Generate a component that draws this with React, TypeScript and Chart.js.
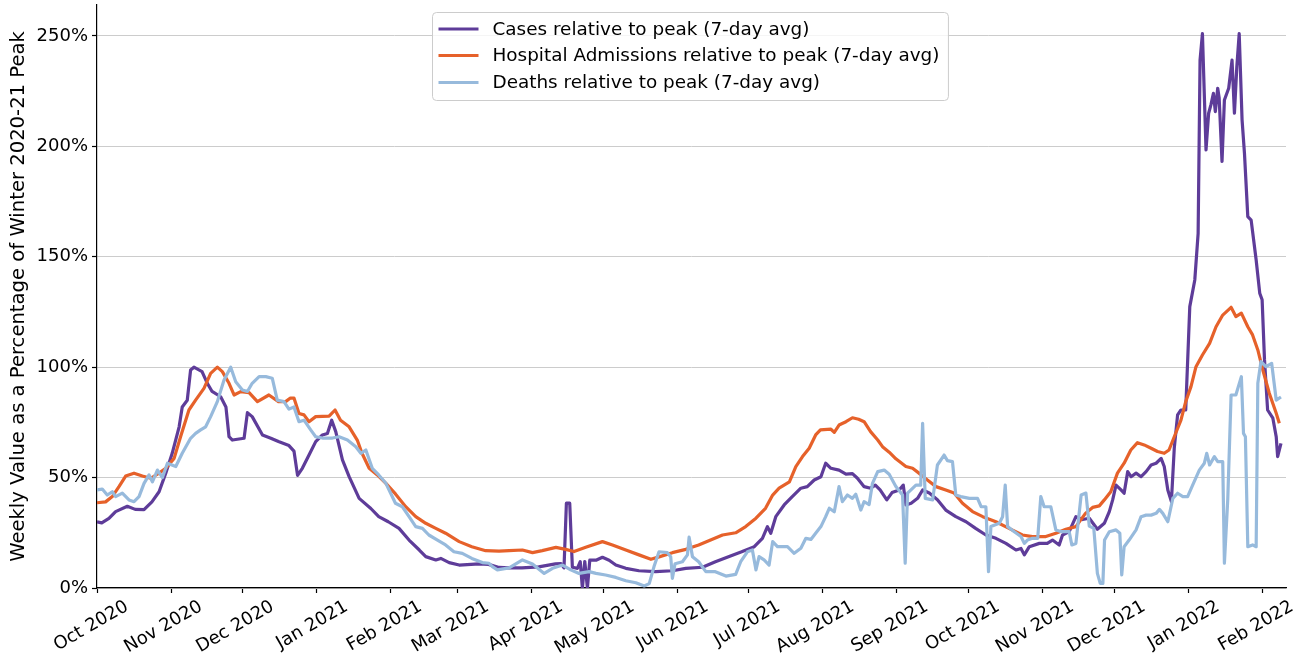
import React, { useEffect, useRef } from "react";
import { Chart, registerables } from "chart.js";

Chart.register(...registerables);

// x values are days since 1 Oct 2020
const monthTickDays = [0, 31, 61, 92, 123, 151, 182, 212, 243, 273, 304, 335, 365, 396, 426, 457, 488];
const monthTickLabels = [
  "Oct 2020", "Nov 2020", "Dec 2020", "Jan 2021", "Feb 2021", "Mar 2021", "Apr 2021", "May 2021",
  "Jun 2021", "Jul 2021", "Aug 2021", "Sep 2021", "Oct 2021", "Nov 2021", "Dec 2021", "Jan 2022", "Feb 2022",
];
const yTickValues = [0, 50, 100, 150, 200, 250];

const seriesLabels = [
  "Cases relative to peak (7-day avg)",
  "Hospital Admissions relative to peak (7-day avg)",
  "Deaths relative to peak (7-day avg)",
];
const seriesColors = ["#5e3c99", "#e6612a", "#97badc"];

const casesDays = [
  0, 2, 5, 7.8, 12.7, 16, 19.7, 23, 26, 28.8,
  31.5, 34.4, 35.7, 37.8, 39.2, 40.6, 44, 46.2, 48.2, 51.8,
  54, 55.3, 56.7, 61.6, 63, 65, 69.3, 72.8, 76, 80.4,
  82.5, 84, 86, 88.8, 91.6, 94.4, 96.5, 98.3, 100, 102.8,
  105.6, 109.8, 114.7, 118, 122, 126.5, 130.7, 135, 137.7, 141.9,
  144, 147.5, 151.7, 160, 164, 168.4, 172.6, 178, 185, 192,
  194.3, 195.6, 196.6, 198, 199.1, 201.2, 202.4, 203.3, 204.3, 205.4,
  206.4, 209, 211.7, 214.5, 217.3, 221.5, 227, 234, 241, 246.6,
  253.6, 259, 264.5, 270, 275.3, 278.7, 280.8, 282.2, 284.3, 287.8,
  291.2, 294.8, 297.5, 300.4, 303.2, 305.2, 307.4, 310.8, 313.7, 316.4,
  318.5, 321.3, 324, 326, 328, 330.8, 333, 336, 337.7, 338.8,
  341, 343.7, 345.8, 348.6, 352, 355.5, 359.7, 364, 368, 372.3,
  376.5, 380.7, 384.9, 387, 388.4, 390.5, 394.7, 398, 400.2, 403,
  404.4, 407.2, 410, 412.8, 415.6, 419, 421.9, 424, 425.4, 426.8,
  428.9, 430.2, 431.7, 433.1, 435.2, 437.3, 439.4, 441.5, 443.6, 445.7,
  447, 448.5, 450, 451.2, 452.6, 454, 456, 457.7, 459.8, 461.2,
  462, 463, 464.5, 465.6, 466.6, 467.6, 468.4, 469.4, 470, 471.2,
  472.2, 474, 475.4, 476.4, 477.4, 478.4, 479.6, 480.6, 482, 483.4,
  485.5, 487, 488, 489, 490.3, 492.5, 493.9, 494.5, 495.9,
];
const casesValues = [
  30, 29.5, 31.5, 34.6, 37, 35.6, 35.5, 39, 43.6, 52,
  61, 73, 82, 85, 98.7, 100, 98, 92.7, 89, 86.6,
  82, 68.5, 67, 67.8, 79.4, 77.6, 69.3, 67.8, 66.3, 64.5,
  62, 51, 54.2, 60.2, 66.3, 69.3, 70, 76, 70.8, 58,
  50.4, 40.6, 36, 32.3, 30, 27, 21.7, 17.2, 14.2, 12.7,
  13.4, 11.5, 10.4, 10.9, 10.7, 9.3, 9.1, 9.1, 9.6, 10.9,
  11.1, 9.1, 38.4, 38.4, 9.4, 8.9, 11.9, 0, 12, 0,
  12.6, 12.6, 13.9, 12.6, 10.4, 8.9, 7.8, 7.4, 7.8, 8.9,
  9.4, 11.9, 14.2, 16.4, 18.7, 22.5, 27.8, 24.8, 32.3, 37.6,
  41.4, 45.2, 45.9, 48.9, 50.4, 56.5, 54.2, 53.4, 51.6, 51.8,
  49.7, 45.9, 45.2, 46.6, 44.4, 39.9, 43.2, 44.4, 46.6, 37.6,
  38.4, 40.6, 44.4, 43, 40, 35.3, 32.3, 30, 27, 24,
  22.5, 20.2, 17.2, 17.9, 15, 18.7, 20.2, 20.2, 21.7, 19.5,
  24, 25.5, 32.3, 31, 31.6, 26.6, 29.3, 34.6, 39.9, 46.6,
  44.4, 42.9, 52.7, 50.4, 52, 50.4, 52.7, 55.7, 56.5, 58.7,
  55, 44.4, 39.1, 63.3, 78.4, 80.6, 80.6, 127.4, 139.5, 160.6,
  239, 251, 198.4, 215, 219, 224, 215.7, 226.3, 222, 193.2,
  221, 226.3, 239, 215, 236, 251, 212, 196.9, 168.2, 166.6,
  148.5, 133.5, 130.5, 103.3, 80.6, 76.9, 68.5, 59.5, 65.5,
];

const hospitalDays = [
  0, 3.6, 6.4, 9.2, 12, 15.5, 19, 22.5, 26, 28.8,
  32.3, 35, 38.5, 41.3, 44.8, 47.6, 50.4, 52.5, 55.3, 57.4,
  60.2, 63.7, 67.2, 72, 76, 79, 81, 82.5, 84.6, 86.7,
  88.8, 91.6, 97.2, 99.7, 102, 105.6, 109, 111, 114, 117.4,
  121, 125, 129.3, 133.5, 137.7, 141.9, 146, 151.7, 157, 162.8,
  168.4, 172.6, 178.2, 182.4, 186.5, 192.2, 196.3, 199.8, 204.7, 211.7,
  215.9, 221.5, 227, 232, 235.4, 241, 246.6, 252, 257, 262,
  267.5, 271.7, 276, 280, 283, 285.7, 290, 292.7, 295.5, 298.3,
  301, 303, 307.4, 308.8, 310.8, 313.7, 316.4, 319, 321.3, 324,
  327, 329, 331.8, 334.6, 338.8, 341.6, 344.4, 347.8, 351.4, 355.5,
  359, 362.5, 366.7, 371, 376.5, 382, 387.6, 391.8, 397.4, 401.6,
  405.8, 410, 414, 417, 419.8, 421.9, 424.6, 427.4, 430.2, 433,
  435.8, 438.6, 441.5, 444.2, 447, 449, 451.2, 454, 456, 458.2,
  460.3, 463, 466, 468.7, 471.5, 475, 477, 479.3, 482, 484,
  486.2, 488.3, 491, 493.9, 495.2,
];
const hospitalValues = [
  38.6, 39, 41.4, 45.9, 50.7, 52, 50.7, 49.7, 52, 54.2,
  58.7, 68.5, 80.6, 85.1, 90.4, 97.2, 100, 98, 92.7, 87.4,
  88.9, 88.5, 84.4, 87.4, 84.4, 84.4, 86, 86, 79, 78.4,
  75.3, 77.6, 77.8, 80.6, 76, 73, 67, 61, 54.2, 51.2,
  47.4, 42.6, 36.8, 32.3, 29.3, 27, 24.8, 21, 18.7, 16.9,
  16.7, 16.9, 17.2, 16, 16.9, 18.4, 17.5, 16.5, 18.4, 21,
  19.5, 17.2, 15, 13, 14.1, 16, 17.5, 19.5, 21.7, 24,
  25, 27.8, 31.6, 36.1, 42.1, 45.2, 48.1, 55, 59.5, 63.3,
  69.3, 71.6, 71.9, 70.5, 73.8, 75.3, 77.1, 76.4, 75.3, 70.8,
  67, 64, 61.5, 58.5, 55, 54.2, 51.9, 48.9, 45.9, 44.4,
  43, 38.4, 34.6, 32.3, 30, 27, 24, 23.3, 23.3, 24.8,
  26.6, 27.8, 33.8, 36.5, 37.2, 39.9, 43.6, 52, 56.5, 62.5,
  65.8, 64.8, 63.3, 61.8, 61, 62.5, 68.5, 76, 84.4, 91.2,
  100.2, 105.5, 110.8, 118.3, 123.6, 127.1, 122.9, 124.5, 118.3, 114.6,
  107.8, 98.7, 88.2, 79.1, 74.6,
];

const deathsDays = [
  0, 2.2, 4.3, 6.4, 7.8, 10.6, 13.4, 15.5, 17.6, 19.7,
  21.8, 23.2, 25.3, 27.4, 29.5, 33, 35.7, 39.2, 41.3, 43.4,
  45.5, 47.6, 50.4, 53.2, 56, 58.1, 60.9, 63, 65, 67.9,
  70.7, 73.4, 75.5, 78.3, 80.4, 82.5, 84.6, 86.7, 89.5, 91.6,
  94.4, 98.6, 101.4, 104.9, 108.4, 110.5, 112.6, 115.3, 118, 121,
  123, 125, 127.9, 130.7, 133.5, 136.3, 139, 142.6, 146, 149.5,
  153, 157, 161.4, 164.2, 165.6, 167.7, 172.6, 178.2, 182.4, 187.3,
  190.8, 195, 198.4, 201.9, 206.1, 209, 213, 217.3, 221.5, 225.7,
  229.2, 231.3, 233.3, 235.4, 238.9, 240.3, 241, 242.1, 245.2, 247.3,
  248, 249.4, 252, 255, 259, 263.4, 267.5, 269.6, 272.4, 274.5,
  276, 277.3, 279.4, 281.5, 283, 285, 289.2, 292, 294.8, 296.9,
  299, 301, 303.2, 305.2, 306.7, 308.8, 310.8, 312.2, 314.3, 316.4,
  317.8, 319.9, 321.3, 323.4, 324.8, 327, 329.7, 331.8, 334.6, 337.4,
  338.5, 339.5, 343, 345, 345.8, 346.9, 350, 352, 354.8, 356.2,
  358.3, 359.7, 361.8, 365.4, 368.8, 370.3, 372.3, 373.4, 374.4, 377.9,
  379.3, 380.4, 381.4, 384.2, 387, 388.4, 389.7, 391.8, 394, 395.3,
  396.7, 399.5, 401.6, 404, 407.2, 408.3, 410, 412.2, 414.2, 415.6,
  417.5, 419, 420.2, 421.3, 422, 424, 426.8, 428.4, 429.2, 430.2,
  432.3, 435.2, 437.3, 439.4, 441.5, 443.6, 445, 446.4, 448.5, 450.6,
  452.6, 454.8, 456.8, 458.9, 461.7, 463.8, 464.8, 466, 468, 469.4,
  471.5, 472.2, 473.6, 475, 477, 479.3, 480.2, 481, 482, 484,
  485.5, 486.2, 487.5, 489.6, 492, 493.9, 495.9,
];
const deathsValues = [
  44.4, 44.8, 42.1, 43.6, 41.4, 43, 39.9, 39.1, 41.4, 47.4,
  51.2, 48.1, 53.4, 50, 56.5, 55, 61, 67.8, 70, 71.6,
  73, 77.6, 84.4, 94.2, 100, 93.4, 89.7, 89, 92.7, 95.7,
  95.7, 95, 85.1, 84.4, 81, 82, 75.3, 76, 71.6, 68.5,
  67.9, 67.9, 68.5, 67, 64, 61, 62.5, 54.2, 51.2, 47.4,
  42.9, 38.4, 36.8, 32.3, 27.8, 27, 24, 21.7, 19.5, 16.4,
  15.7, 13.4, 11.5, 11.2, 9.7, 8.2, 9.1, 12.7, 10.9, 6.6,
  8.9, 10.4, 8.2, 6.6, 7.4, 6.6, 5.9, 4.8, 3.3, 2.4,
  0.9, 2, 9.7, 16.4, 16, 14.1, 4.4, 11, 11.9, 15,
  23, 14.2, 11.9, 7.4, 7.4, 5.4, 6.2, 11.9, 16.4, 17.2,
  8.2, 14.2, 12.7, 10.4, 21, 18.7, 18.7, 15.7, 18, 22.5,
  22, 24.8, 27.8, 32.3, 36.1, 34.5, 45.9, 39.1, 42.1, 40.6,
  42.5, 35.3, 39.1, 37.8, 47.4, 52.7, 53.4, 51.5, 46, 42.1,
  11.2, 43, 46.6, 46.6, 74.6, 40.6, 39.9, 55.7, 60.2, 57.7,
  57.2, 42.1, 41.4, 40.6, 40.6, 36.8, 36.8, 7.4, 27.8, 29.3,
  32.3, 46.6, 27.8, 25.5, 23.3, 20.2, 21.7, 22.5, 22.5, 41.4,
  36.8, 36.8, 26.3, 25.5, 25.5, 19.5, 20.2, 42.1, 43, 28,
  27, 6.6, 2.1, 2.1, 21.7, 25.5, 26.3, 24.8, 5.9, 18.7,
  21.7, 26.3, 32.3, 33, 33, 33.8, 35.6, 33.8, 30, 40.6,
  42.9, 41.4, 41.4, 46.6, 53.4, 56.5, 61, 55.7, 59.5, 57.2,
  57.2, 11.2, 40, 87.4, 87.4, 95.7, 70, 68.5, 18.7, 19.5,
  18.7, 92.7, 102.5, 100.2, 101.7, 85.1, 86.5,
];

const FONT = '"DejaVu Sans", "Liberation Sans", sans-serif';

const toPoints = (xs: number[], ys: number[]) => xs.map((x, i) => ({ x, y: ys[i] }));

const boxLegend = {
  id: "boxLegend",
  afterDatasetsDraw(chart: any) {
    const { ctx, chartArea } = chart;
    ctx.save();
    ctx.font = `18.4px ${FONT}`;
    const textWidths = seriesLabels.map((t) => ctx.measureText(t).width);
    const maxW = Math.max(...textWidths);
    const padL = 6, swatchLen = 40, gap = 14, padR = 9;
    const w = padL + swatchLen + gap + maxW + padR;
    const h = 88;
    const cx = (chartArea.left + chartArea.right) / 2;
    const x0 = Math.round(cx - w / 2) - 1.5;
    const y0 = Math.round(chartArea.top) + 7.5;
    ctx.beginPath();
    ctx.roundRect(x0, y0, w, h, 4);
    ctx.fillStyle = "rgba(255,255,255,0.8)";
    ctx.fill();
    ctx.strokeStyle = "#cccccc";
    ctx.lineWidth = 1;
    ctx.stroke();
    const rowY = [y0 + 16.5, y0 + 43, y0 + 70];
    seriesLabels.forEach((label, i) => {
      ctx.beginPath();
      ctx.strokeStyle = seriesColors[i];
      ctx.lineWidth = 3.2;
      ctx.lineCap = "butt";
      ctx.moveTo(x0 + padL, rowY[i]);
      ctx.lineTo(x0 + padL + swatchLen, rowY[i]);
      ctx.stroke();
      ctx.fillStyle = "#000";
      ctx.textBaseline = "middle";
      ctx.textAlign = "left";
      ctx.fillText(label, x0 + padL + swatchLen + gap, rowY[i] + 1);
    });
    ctx.restore();
  },
};

export default function App() {
  const canvasRef = useRef<HTMLCanvasElement | null>(null);

  useEffect(() => {
    document.body.style.margin = "0";
    const canvas = canvasRef.current;
    if (!canvas) return;
    const lineDataset = (i: number, xs: number[], ys: number[], order: number) => ({
      label: seriesLabels[i],
      data: toPoints(xs, ys),
      borderColor: seriesColors[i],
      backgroundColor: seriesColors[i],
      borderWidth: 3.2,
      pointRadius: 0,
      tension: 0,
      borderJoinStyle: "round" as const,
      order,
    });
    const chart = new Chart(canvas, {
      type: "line",
      data: {
        datasets: [
          lineDataset(0, casesDays, casesValues, 2),
          lineDataset(1, hospitalDays, hospitalValues, 1),
          lineDataset(2, deathsDays, deathsValues, 0),
        ],
      },
      options: {
        animation: false,
        responsive: false,
        devicePixelRatio: 1,
        layout: { padding: { top: 5, right: 27, left: 0, bottom: 0 } },
        plugins: { legend: { display: false }, tooltip: { enabled: false } },
        scales: {
          x: {
            type: "linear",
            min: 0,
            max: 498,
            afterBuildTicks: (s: any) => {
              s.ticks = monthTickDays.map((v) => ({ value: v }));
            },
            afterFit: (s: any) => {
              s.height = 70;
              s.paddingLeft = 0;
              s.paddingRight = 0;
            },
            ticks: {
              autoSkip: false,
              minRotation: 30,
              maxRotation: 30,
              labelOffset: 30,
              padding: 3,
              color: "#000",
              font: { family: FONT, size: 18 },
              callback: (v: any) => {
                const i = monthTickDays.indexOf(Number(v));
                return i >= 0 ? monthTickLabels[i] : "";
              },
            },
            grid: { drawOnChartArea: false, drawTicks: true, tickLength: 5, tickColor: "#000", tickWidth: 1.2 },
            border: { display: true, color: "#000", width: 1.2 },
          },
          y: {
            type: "linear",
            min: 0,
            max: 264,
            afterBuildTicks: (s: any) => {
              s.ticks = yTickValues.map((v) => ({ value: v }));
            },
            afterFit: (s: any) => {
              s.width = 97;
              s.paddingTop = 0;
              s.paddingBottom = 0;
            },
            ticks: {
              padding: 4,
              color: "#000",
              font: { family: FONT, size: 18 },
              callback: (v: any) => `${v}%`,
            },
            grid: { color: "#cccccc", lineWidth: 1, tickColor: "#000", tickLength: 5, tickWidth: 1.2 },
            border: { display: true, color: "#000", width: 1.2 },
            title: {
              display: true,
              text: "Weekly Value as a Percentage of Winter 2020-21 Peak",
              color: "#000",
              font: { family: FONT, size: 19.6 },
              padding: { top: 7, bottom: 0 },
            },
          },
        },
      },
      plugins: [boxLegend],
    });
    return () => chart.destroy();
  }, []);

  return (
    <div style={{ width: 1313, height: 658 }}>
      <canvas ref={canvasRef} width={1313} height={658} style={{ display: "block" }} />
    </div>
  );
}
